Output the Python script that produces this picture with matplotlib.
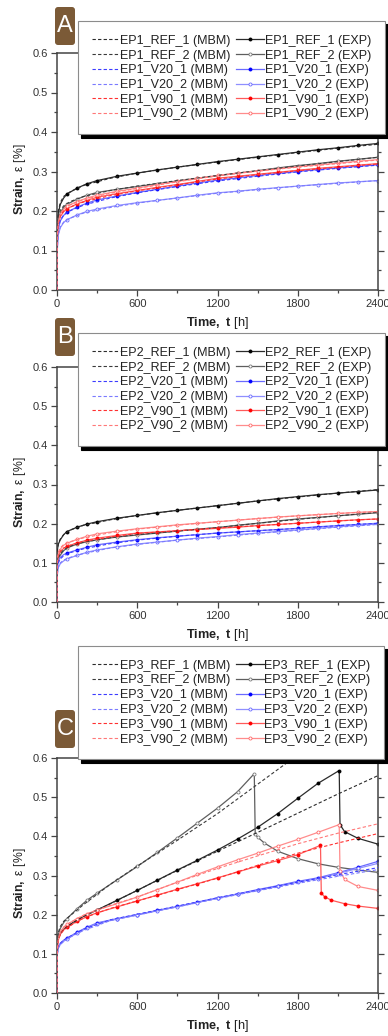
import matplotlib
matplotlib.use("Agg")
import matplotlib.pyplot as plt
from matplotlib.patches import FancyBboxPatch
from matplotlib.ticker import MultipleLocator, FormatStrFormatter

plt.rcParams['font.family'] = ['Liberation Sans', 'DejaVu Sans']
plt.rcParams['mathtext.fontset'] = 'custom'
plt.rcParams['mathtext.rm'] = 'Liberation Sans'
plt.rcParams['mathtext.bf'] = 'Liberation Sans:bold'

# ---------------------------------------------------------------------------
# Data
# ---------------------------------------------------------------------------
# time grid of the measured (EXP) curves and of the model (MBM) curves, hours
T_EXP = [0, 1, 10, 25, 50, 75, 150, 225, 300, 450, 600, 750, 900, 1050,
         1200, 1350, 1500, 1650, 1800, 1950, 2100, 2250, 2400]
T_MBM = [0, 1, 10, 25, 50, 100, 200, 400, 600, 900, 1200, 1500, 1800, 2100, 2400]

SPECIMENS = ["REF_1", "REF_2", "V20_1", "V20_2", "V90_1", "V90_2"]

# --- panel A (EP1) strain, %
EP1_EXP = {
    "REF_1": [0, 0.150, 0.195, 0.217, 0.233, 0.243, 0.258, 0.269, 0.277, 0.288, 0.296, 0.304,
              0.311, 0.318, 0.325, 0.331, 0.337, 0.343, 0.349, 0.355, 0.360, 0.366, 0.371],
    "REF_2": [0, 0.140, 0.178, 0.196, 0.209, 0.217, 0.230, 0.240, 0.247, 0.255, 0.262, 0.269,
              0.276, 0.283, 0.289, 0.296, 0.302, 0.309, 0.315, 0.320, 0.326, 0.331, 0.336],
    "V20_1": [0, 0.110, 0.155, 0.175, 0.189, 0.197, 0.210, 0.220, 0.228, 0.238, 0.247, 0.255,
              0.263, 0.271, 0.278, 0.284, 0.290, 0.295, 0.300, 0.305, 0.309, 0.313, 0.317],
    "V20_2": [0, 0.095, 0.140, 0.158, 0.171, 0.178, 0.190, 0.199, 0.205, 0.214, 0.221, 0.227,
              0.233, 0.240, 0.246, 0.250, 0.255, 0.259, 0.263, 0.267, 0.271, 0.274, 0.277],
    "V90_1": [0, 0.120, 0.166, 0.186, 0.198, 0.206, 0.218, 0.227, 0.235, 0.244, 0.252, 0.260,
              0.267, 0.275, 0.283, 0.288, 0.293, 0.298, 0.303, 0.308, 0.312, 0.316, 0.320],
    "V90_2": [0, 0.125, 0.172, 0.192, 0.204, 0.212, 0.224, 0.233, 0.240, 0.250, 0.258, 0.267,
              0.275, 0.283, 0.290, 0.296, 0.301, 0.307, 0.312, 0.317, 0.321, 0.326, 0.330],
}
EP1_MBM = {
    "REF_1": [0, 0.140, 0.200, 0.222, 0.237, 0.249, 0.265, 0.283, 0.296, 0.311, 0.324, 0.336, 0.348, 0.359, 0.369],
    "REF_2": [0, 0.145, 0.185, 0.202, 0.213, 0.224, 0.237, 0.252, 0.263, 0.277, 0.290, 0.302, 0.314, 0.325, 0.336],
    "V20_1": [0, 0.115, 0.158, 0.177, 0.190, 0.201, 0.215, 0.233, 0.246, 0.262, 0.276, 0.288, 0.299, 0.308, 0.316],
    "V20_2": [0, 0.100, 0.142, 0.160, 0.172, 0.182, 0.195, 0.209, 0.220, 0.233, 0.245, 0.254, 0.263, 0.270, 0.277],
    "V90_1": [0, 0.125, 0.169, 0.188, 0.200, 0.210, 0.223, 0.239, 0.251, 0.266, 0.281, 0.292, 0.302, 0.311, 0.319],
    "V90_2": [0, 0.130, 0.175, 0.194, 0.206, 0.216, 0.229, 0.245, 0.257, 0.274, 0.289, 0.301, 0.311, 0.320, 0.329],
}

# --- panel B (EP2)
EP2_EXP = {
    "REF_1": [0, 0.130, 0.148, 0.159, 0.172, 0.180, 0.191, 0.199, 0.205, 0.214, 0.221, 0.228,
              0.234, 0.240, 0.246, 0.252, 0.258, 0.264, 0.269, 0.274, 0.278, 0.282, 0.286],
    "REF_2": [0, 0.090, 0.110, 0.120, 0.131, 0.138, 0.148, 0.154, 0.159, 0.166, 0.171, 0.176,
              0.181, 0.186, 0.190, 0.196, 0.201, 0.207, 0.212, 0.216, 0.220, 0.224, 0.228],
    "V20_1": [0, 0.085, 0.105, 0.114, 0.121, 0.125, 0.133, 0.140, 0.146, 0.153, 0.159, 0.164,
              0.168, 0.172, 0.176, 0.179, 0.182, 0.185, 0.188, 0.192, 0.195, 0.198, 0.201],
    "V20_2": [0, 0.065, 0.088, 0.098, 0.105, 0.110, 0.119, 0.127, 0.133, 0.141, 0.148, 0.153,
              0.158, 0.163, 0.167, 0.172, 0.176, 0.180, 0.184, 0.188, 0.192, 0.196, 0.199],
    "V90_1": [0, 0.095, 0.118, 0.128, 0.137, 0.142, 0.151, 0.158, 0.163, 0.170, 0.176, 0.179,
              0.182, 0.185, 0.188, 0.191, 0.195, 0.198, 0.201, 0.204, 0.207, 0.210, 0.212],
    "V90_2": [0, 0.100, 0.125, 0.135, 0.145, 0.150, 0.160, 0.168, 0.174, 0.181, 0.187, 0.192,
              0.197, 0.201, 0.205, 0.209, 0.213, 0.217, 0.220, 0.223, 0.226, 0.229, 0.231],
}
EP2_MBM = {
    "REF_1": [0, 0.125, 0.150, 0.161, 0.172, 0.184, 0.196, 0.210, 0.221, 0.234, 0.246, 0.258, 0.268, 0.278, 0.287],
    "REF_2": [0, 0.095, 0.114, 0.124, 0.133, 0.143, 0.153, 0.164, 0.172, 0.181, 0.190, 0.201, 0.211, 0.220, 0.229],
    "V20_1": [0, 0.080, 0.100, 0.110, 0.118, 0.126, 0.136, 0.149, 0.158, 0.168, 0.176, 0.182, 0.188, 0.195, 0.201],
    "V20_2": [0, 0.070, 0.090, 0.100, 0.107, 0.114, 0.124, 0.138, 0.147, 0.158, 0.166, 0.175, 0.183, 0.191, 0.198],
    "V90_1": [0, 0.098, 0.120, 0.130, 0.138, 0.145, 0.155, 0.166, 0.175, 0.182, 0.189, 0.195, 0.201, 0.207, 0.212],
    "V90_2": [0, 0.105, 0.128, 0.138, 0.147, 0.154, 0.164, 0.177, 0.186, 0.196, 0.205, 0.213, 0.220, 0.226, 0.231],
}

# --- panel C (EP3): some specimens show a sudden drop, so they carry their own times
T_EP3_REF_1 = [0, 1, 10, 25, 50, 75, 150, 225, 300, 450, 600, 750, 900, 1050, 1200, 1350,
               1500, 1650, 1800, 1950, 2110, 2116, 2150, 2250, 2400]
T_EP3_REF_2 = [0, 1, 10, 25, 50, 75, 150, 225, 300, 450, 600, 750, 900, 1050, 1200, 1350,
               1475, 1482, 1500, 1550, 1650, 1800, 1950, 2100, 2250, 2400]
T_EP3_V90_1 = [0, 1, 10, 25, 50, 75, 150, 225, 300, 450, 600, 750, 900, 1050, 1200, 1350,
               1500, 1650, 1800, 1970, 1976, 2000, 2050, 2150, 2250, 2400]
T_EP3_V90_2 = [0, 1, 10, 25, 50, 75, 150, 225, 300, 450, 600, 750, 900, 1050, 1200, 1350,
               1500, 1650, 1800, 1950, 2110, 2116, 2150, 2250, 2400]
EP3_EXP = {
    "REF_1": [0, 0.120, 0.140, 0.152, 0.163, 0.170, 0.187, 0.200, 0.212, 0.237, 0.262, 0.288, 0.314,
              0.339, 0.365, 0.393, 0.423, 0.458, 0.497, 0.535, 0.568, 0.430, 0.412, 0.395, 0.380],
    "REF_2": [0, 0.130, 0.150, 0.165, 0.180, 0.190, 0.215, 0.237, 0.255, 0.289, 0.323, 0.359, 0.396,
              0.434, 0.472, 0.514, 0.560, 0.405, 0.398, 0.383, 0.362, 0.343, 0.330, 0.321, 0.314, 0.308],
    "V20_1": [0, 0.100, 0.118, 0.127, 0.135, 0.140, 0.155, 0.168, 0.179, 0.190, 0.200, 0.211,
              0.221, 0.232, 0.243, 0.253, 0.264, 0.274, 0.285, 0.294, 0.307, 0.321, 0.336],
    "V20_2": [0, 0.095, 0.115, 0.124, 0.132, 0.138, 0.153, 0.166, 0.177, 0.189, 0.199, 0.210,
              0.220, 0.231, 0.242, 0.252, 0.262, 0.272, 0.283, 0.292, 0.305, 0.318, 0.331],
    "V90_1": [0, 0.100, 0.135, 0.150, 0.161, 0.168, 0.183, 0.195, 0.205, 0.220, 0.235, 0.250, 0.265,
              0.279, 0.294, 0.309, 0.324, 0.338, 0.353, 0.377, 0.255, 0.246, 0.237, 0.228, 0.222, 0.216],
    "V90_2": [0, 0.105, 0.140, 0.156, 0.168, 0.175, 0.190, 0.202, 0.212, 0.228, 0.245, 0.264, 0.283,
              0.303, 0.322, 0.340, 0.357, 0.375, 0.392, 0.410, 0.430, 0.312, 0.290, 0.272, 0.262],
}
EP3_EXP_T = {"REF_1": T_EP3_REF_1, "REF_2": T_EP3_REF_2, "V20_1": T_EXP,
             "V20_2": T_EXP, "V90_1": T_EP3_V90_1, "V90_2": T_EP3_V90_2}
EP3_MBM = {
    "REF_1": [0, 0.110, 0.140, 0.152, 0.162, 0.175, 0.196, 0.228, 0.262, 0.313, 0.362, 0.410, 0.459, 0.508, 0.555],
    "REF_2": [0, 0.120, 0.155, 0.170, 0.183, 0.198, 0.226, 0.278, 0.324, 0.390, 0.458, 0.533, 0.608, 0.683, 0.758],
    "V20_1": [0, 0.100, 0.118, 0.127, 0.135, 0.145, 0.163, 0.187, 0.201, 0.222, 0.243, 0.263, 0.283, 0.302, 0.320],
    "V20_2": [0, 0.095, 0.115, 0.124, 0.132, 0.143, 0.160, 0.185, 0.199, 0.220, 0.241, 0.261, 0.280, 0.298, 0.315],
    "V90_1": [0, 0.100, 0.135, 0.150, 0.161, 0.172, 0.192, 0.216, 0.235, 0.264, 0.293, 0.326, 0.357, 0.383, 0.407],
    "V90_2": [0, 0.105, 0.140, 0.156, 0.168, 0.180, 0.199, 0.224, 0.245, 0.283, 0.318, 0.350, 0.381, 0.408, 0.432],
}

# ---------------------------------------------------------------------------
# Styles
# ---------------------------------------------------------------------------
STYLE = {
    "REF_1": dict(mbm="#2b2b2b", line="#2b2b2b", mark="#000000", filled=True),
    "REF_2": dict(mbm="#3a3a3a", line="#5e5e5e", mark="#7a7a7a", filled=False),
    "V20_1": dict(mbm="#3c3cff", line="#6a6aff", mark="#0000ff", filled=True),
    "V20_2": dict(mbm="#7a7aff", line="#8f8fff", mark="#6a6aff", filled=False),
    "V90_1": dict(mbm="#ff3030", line="#ff5a5a", mark="#ff0000", filled=True),
    "V90_2": dict(mbm="#ff7878", line="#ff8c8c", mark="#ff6a6a", filled=False),
}

W, H = 388, 1036
AX_L, AX_R = 57, 378

fig = plt.figure(figsize=(W / 100, H / 100), dpi=100)


def add_badge(letter, top):
    bw, bh = 20, 38
    axb = fig.add_axes([55 / W, 1 - (top + bh) / H, bw / W, bh / H])
    axb.set_xlim(0, bw)
    axb.set_ylim(0, bh)
    axb.axis("off")
    axb.add_patch(FancyBboxPatch((0, 0), bw, bh, boxstyle="round,pad=0,rounding_size=3",
                                 fc="#7b5a37", ec="none", clip_on=False))
    axb.text(bw / 2, bh / 2, letter, color="white", ha="center", va="center",
             fontsize=17, family=["Liberation Sans Narrow", "Liberation Sans"])


def draw_panel(tag, exp, exp_t, mbm, top, bottom, leg_top, badge_top, letter, xlabel_y):
    ax = fig.add_axes([AX_L / W, 1 - bottom / H, (AX_R - AX_L) / W, (bottom - top) / H])

    exp_handles, mbm_handles = [], []
    for s in SPECIMENS:
        st = STYLE[s]
        t = exp_t[s] if isinstance(exp_t, dict) else exp_t
        h, = ax.plot(t, exp[s], color=st["line"], lw=0.9, marker="o", ms=2.2,
                     mfc=st["mark"] if st["filled"] else "white", mec=st["mark"], mew=0.6,
                     markevery=slice(5, None), label=f"{tag}_{s} (EXP)", zorder=2)
        exp_handles.append(h)
    for s in SPECIMENS:
        st = STYLE[s]
        h, = ax.plot(T_MBM, mbm[s], color=st["mbm"], lw=0.8, dashes=(3, 2),
                     label=f"{tag}_{s} (MBM)", zorder=3)
        mbm_handles.append(h)

    ax.set_xlim(0, 2400)
    ax.set_ylim(0, 0.6)
    ax.xaxis.set_major_locator(MultipleLocator(600))
    ax.xaxis.set_minor_locator(MultipleLocator(300))
    ax.yaxis.set_major_locator(MultipleLocator(0.1))
    ax.yaxis.set_minor_locator(MultipleLocator(0.05))
    ax.yaxis.set_major_formatter(FormatStrFormatter("%.1f"))
    for sp in ax.spines.values():
        sp.set_color("#444444")
        sp.set_linewidth(1.1)
    ax.tick_params(which="both", direction="out", color="#444444", width=0.9,
                   labelsize=8, labelcolor="#333333", right=True, top=False)
    ax.tick_params(which="major", length=4, pad=2.5)
    ax.tick_params(which="minor", length=2.5)

    leg = ax.legend(handles=mbm_handles + exp_handles, ncol=2, loc="upper left",
                    bbox_to_anchor=(78 / W, 1 - leg_top / H), bbox_transform=fig.transFigure,
                    borderaxespad=0, fontsize=9.0, handlelength=2.25, handletextpad=0.05,
                    columnspacing=0.4, labelspacing=0.22, borderpad=1.1, fancybox=False,
                    framealpha=1, edgecolor="#8c8c8c",
                    shadow={"color": "black", "alpha": 1.0, "ox": 2.5, "oy": -2.5})
    leg.get_frame().set_linewidth(0.8)
    for txt in leg.get_texts():
        txt.set_color("#222222")

    ymid = (top + bottom) / 2 + 8
    fig.text(20 / W, 1 - ymid / H, r"$\mathbf{Strain,}$ ε [%]", rotation=90,
             ha="center", va="center", fontsize=8.8, color="#222222")
    fig.text((AX_L + AX_R) / 2 / W, 1 - xlabel_y / H, r"$\mathbf{Time,\ t}$ [h]",
             ha="center", va="center", fontsize=9.2, color="#222222")
    add_badge(letter, badge_top)


draw_panel("EP1", EP1_EXP, T_EXP, EP1_MBM, 53, 290, 21, 7, "A", 323)
draw_panel("EP2", EP2_EXP, T_EXP, EP2_MBM, 367, 602, 333, 318, "B", 635)
draw_panel("EP3", EP3_EXP, EP3_EXP_T, EP3_MBM, 758, 993, 646, 710, "C", 1026)

fig.savefig("out.png", dpi=100)
